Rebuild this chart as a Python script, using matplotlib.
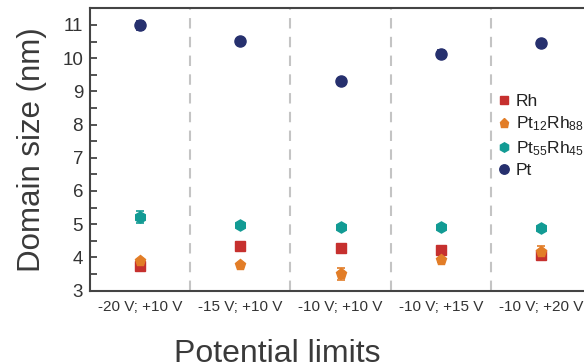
import matplotlib.pyplot as plt
from matplotlib.lines import Line2D
from matplotlib.ticker import MultipleLocator

plt.rcParams['font.family'] = ['Liberation Sans', 'DejaVu Sans']
plt.rcParams['mathtext.default'] = 'regular'

# data
limits = ["-20 V; +10 V", "-15 V; +10 V", "-10 V; +10 V", "-10 V; +15 V", "-10 V; +20 V"]
rh = [3.73, 4.35, 4.29, 4.22, 4.08]
rh_err = [0.05, 0.04, 0.04, 0.04, 0.06]
pt12rh88 = [3.89, 3.77, 3.50, 3.92, 4.15]
pt12rh88_err = [0.05, 0.04, 0.17, 0.05, 0.19]
pt55rh45 = [5.22, 4.98, 4.92, 4.90, 4.87]
pt55rh45_err = [0.18, 0.04, 0.04, 0.04, 0.04]
pt = [10.99, 10.52, 9.32, 10.13, 10.46]
pt_err = [0.13, 0.04, 0.05, 0.1, 0.05]

series = [
    ("Rh", rh, rh_err, "s", "#c6302e", 6.5),
    ("Pt$_{12}$Rh$_{88}$", pt12rh88, pt12rh88_err, "p", "#e27d27", 8),
    ("Pt$_{55}$Rh$_{45}$", pt55rh45, pt55rh45_err, "h", "#129b94", 8),
    ("Pt", pt, pt_err, "o", "#26306e", 8),
]

fig = plt.figure(figsize=(5.84, 3.64), dpi=100)
ax = fig.add_axes([90 / 584, 1 - 290.5 / 364, 501 / 584, 282.5 / 364])

x = list(range(len(limits)))
handles = []
for name, vals, errs, mk, col, ms in series:
    ax.errorbar(x, vals, yerr=errs, fmt=mk, color=col, ms=ms, capsize=3,
                elinewidth=1.2, capthick=1.2, zorder=3)
    handles.append(Line2D([], [], ls="none", marker=mk, color=col, ms=ms * 0.85, label=name))

# dashed separators between groups
for i in range(len(limits) - 1):
    ax.axvline(i + 0.5, color="#c4c4c4", lw=1.5, ls=(0, (5, 4)), zorder=1)

ax.set_xlim(-0.5, len(limits) - 0.5)
ax.set_ylim(3, 11.51)
ax.set_xticks(x)
ax.set_xticklabels(limits, fontsize=11, color="#333333")
ax.tick_params(axis="x", length=0, pad=7)
ax.yaxis.set_major_locator(MultipleLocator(1))
ax.yaxis.set_minor_locator(MultipleLocator(0.5))
ax.tick_params(axis="y", which="both", direction="in", length=5, width=1.3,
               color="#444444", labelsize=13.5, labelcolor="#333333", pad=5)
for s in ax.spines.values():
    s.set_color("#444444")
    s.set_linewidth(1.5)

ax.set_ylabel("Domain size (nm)", fontsize=22.5, color="#3a3a3a", labelpad=11)
ax.set_xlabel("Potential limits", fontsize=23, color="#3a3a3a")
ax.xaxis.set_label_coords(0.373, -0.172)

leg = ax.legend(handles=handles, loc="upper left", bbox_to_anchor=(497 / 584, 1 - 94 / 364),
                bbox_transform=fig.transFigure, frameon=False, fontsize=12.5,
                handlelength=0.8, handletextpad=0.3, labelspacing=0.32,
                borderaxespad=0, borderpad=0)
for t in leg.get_texts():
    t.set_color("#222222")

fig.savefig("out.png", dpi=100)
